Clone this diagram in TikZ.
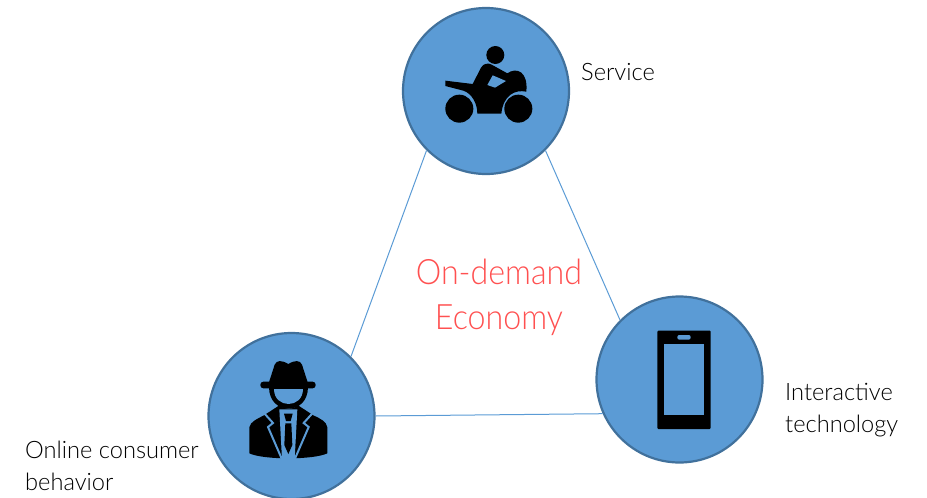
\documentclass[tikz,border=0pt]{standalone}
\usepackage{xcolor}
\usepackage{fontspec}
\setmainfont{Lato}[UprightFont=* Light, FakeStretch=0.985]
\newfontfamily\titlefont{Lato}[UprightFont=* Light, FakeStretch=0.92]
\definecolor{hubfill}{HTML}{5B9BD5}
\definecolor{hubline}{HTML}{41719C}
\definecolor{econred}{HTML}{FF5050}

\begin{document}
\begin{tikzpicture}[
	x=1pt, y=-1pt,
	hub/.style={circle, draw=hubline, fill=hubfill, line width=2.2pt, minimum size=166pt, inner sep=0pt},
	link/.style={draw=hubfill, line width=1pt},
	tag/.style={align=left, anchor=west, inner sep=0pt, font=\fontsize{24}{32}\selectfont},
	title/.style={align=center, inner sep=0pt, text=econred, font=\titlefont\fontsize{35}{45}\selectfont},
	glyph/.style={fill=black, draw=none},
	cutout/.style={fill=hubfill, draw=none},
	lapel/.style={draw=hubfill, line width=2pt, fill=none}
	]
	\useasboundingbox (0,0) rectangle (927,498);

	\node[hub] (service) at (486,91) {};
	\node[hub] (consumer) at (291.5,416) {};
	\node[hub] (technology) at (679.5,379.5) {};

	\draw[link] (service.225) -- (consumer.45);
	\draw[link] (service.-45) -- (technology.135);
	\draw[link] (consumer.0) -- (technology.204);

	\node[tag] (servicetag) at (581,72) {Service};
	\node[tag] (technologytag) at (785,410) {Interactive\\technology};
	\node[tag] (consumertag) at (25,466) {Online consumer\\behavior};
	\node[title] (economy) at (499,297.5) {On-demand\\Economy};

	% motorbike
	\begin{scope}[shift={(400,0)}, x=1/3*1pt, y=-1/3*1pt]
		\fill[glyph] (286,165) circle (27);
		\fill[glyph] (178,326) circle (42);
		\fill[glyph] (355,326) circle (42);
		\fill[glyph] (136,242) -- (218,252) -- (243,203)
			.. controls (250,190) and (265,188) .. (275,194)
			-- (322,220) .. controls (350,200) and (385,215) .. (379,275)
			.. controls (345,268) and (310,285) .. (304,341)
			-- (232,341) .. controls (232,310) and (215,280) .. (190,272)
			-- (136,258) -- cycle;
		\fill[cutout] (278,226) -- (318,243) -- (285,263) -- (262,255) -- cycle;
	\end{scope}

	% detective
	\begin{scope}[shift={(200,330)}, x=1/3*1pt, y=-1/3*1pt]
		\fill[glyph] (206,160) -- (224,104) .. controls (230,90) and (245,90) .. (265,102)
			.. controls (285,90) and (300,90) .. (306,104) -- (324,160) -- cycle;
		\fill[glyph, rounded corners=3pt] (181,155) rectangle (347,175);
		\fill[glyph] (208,172) .. controls (208,258) and (324,258) .. (324,172) -- cycle;
		\fill[cutout] (222,176) .. controls (222,238) and (310,238) .. (310,176) -- cycle;
		\fill[glyph] (148,292) .. controls (150,275) and (175,265) .. (192,256)
			-- (238,226) .. controls (255,240) and (280,240) .. (294,226)
			-- (340,256) .. controls (360,265) and (380,275) .. (382,292)
			-- (382,370) .. controls (340,390) and (190,390) .. (148,370) -- cycle;
		\fill[cutout] (238,238) -- (292,238) -- (284,388) -- (246,388) -- cycle;
		\fill[glyph] (252,251) -- (278,251) -- (272,273) -- (258,273) -- cycle;
		\fill[glyph] (256,280) -- (274,280) -- (277,345) -- (265,372) -- (253,345) -- cycle;
		\draw[lapel] (191,248) -- (219,279) -- (204,291) -- (246,388);
		\draw[lapel] (339,248) -- (311,279) -- (326,291) -- (284,388);
	\end{scope}

	% phone
	\begin{scope}[shift={(590,290)}, x=1/3*1pt, y=-1/3*1pt]
		\fill[glyph, rounded corners=1pt] (202,122) rectangle (362,417);
		\fill[cutout] (222,162) rectangle (343,376);
		\fill[cutout, rounded corners=2pt] (262,135) rectangle (302,149);
	\end{scope}
\end{tikzpicture}
\end{document}
